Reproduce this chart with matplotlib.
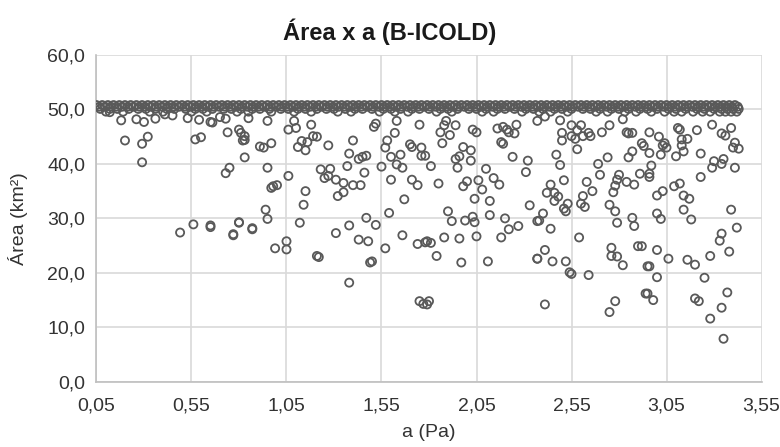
import matplotlib
matplotlib.use("Agg")
import matplotlib.pyplot as plt
from matplotlib.ticker import FuncFormatter

plt.rcParams["font.family"] = ["Liberation Sans", "DejaVu Sans"]

# Saturated band: simulations that reach the maximum flooded area
BAND_TOP = 50.8
BAND_UPPER = 50.5
BAND_MID = 50.1
BAND_LOW = 49.6
band_top_a = [
    0.05, 0.08, 0.11, 0.14, 0.17, 0.20, 0.23, 0.26, 0.29, 0.32, 0.35, 0.38,
    0.41, 0.44, 0.47, 0.50, 0.53, 0.56, 0.59, 0.62, 0.65, 0.68, 0.71, 0.74,
    0.77, 0.80, 0.83, 0.86, 0.89, 0.92, 0.95, 0.98, 1.01, 1.04, 1.07, 1.10,
    1.13, 1.16, 1.19, 1.22, 1.25, 1.28, 1.31, 1.34, 1.37, 1.40, 1.43, 1.46,
    1.49, 1.52, 1.55, 1.58, 1.61, 1.64, 1.67, 1.70, 1.73, 1.76, 1.79, 1.82,
    1.85, 1.88, 1.91, 1.94, 1.97, 2.00, 2.03, 2.06, 2.09, 2.12, 2.15, 2.18,
    2.21, 2.24, 2.27, 2.30, 2.33, 2.36, 2.39, 2.42, 2.45, 2.48, 2.51, 2.54,
    2.57, 2.60, 2.63, 2.66, 2.69, 2.72, 2.75, 2.78, 2.81, 2.84, 2.87, 2.90,
    2.93, 2.96, 2.99, 3.02, 3.05, 3.08, 3.11, 3.14, 3.17, 3.20, 3.23, 3.26,
    3.29, 3.32, 3.35, 3.38, 3.41,
]
band_upper_a = [
    0.065, 0.095, 0.125, 0.155, 0.185, 0.215, 0.245, 0.275, 0.305, 0.335,
    0.365, 0.395, 0.425, 0.455, 0.485, 0.515, 0.545, 0.575, 0.605, 0.635,
    0.665, 0.695, 0.725, 0.755, 0.785, 0.815, 0.845, 0.875, 0.905, 0.935,
    0.965, 0.995, 1.025, 1.055, 1.085, 1.115, 1.145, 1.175, 1.205, 1.235,
    1.265, 1.295, 1.325, 1.355, 1.385, 1.415, 1.445, 1.475, 1.505, 1.535,
    1.565, 1.595, 1.625, 1.655, 1.685, 1.715, 1.745, 1.775, 1.805, 1.835,
    1.865, 1.895, 1.925, 1.955, 1.985, 2.015, 2.045, 2.075, 2.105, 2.135,
    2.165, 2.195, 2.225, 2.255, 2.285, 2.315, 2.345, 2.375, 2.405, 2.435,
    2.465, 2.495, 2.525, 2.555, 2.585, 2.615, 2.645, 2.675, 2.705, 2.735,
    2.765, 2.795, 2.825, 2.855, 2.885, 2.915, 2.945, 2.975, 3.005, 3.035,
    3.065, 3.095, 3.125, 3.155, 3.185, 3.215, 3.245, 3.275, 3.305, 3.335,
    3.365, 3.395, 3.425,
]
band_mid_a = [
    0.07, 0.12, 0.16, 0.22, 0.27, 0.31, 0.36, 0.42, 0.46, 0.52, 0.57, 0.61,
    0.66, 0.72, 0.76, 0.81, 0.87, 0.91, 0.96, 1.02, 1.06, 1.11, 1.15, 1.21,
    1.26, 1.30, 1.36, 1.41, 1.45, 1.50, 1.56, 1.60, 1.65, 1.71, 1.75, 1.80,
    1.86, 1.90, 1.95, 2.01, 2.05, 2.10, 2.16, 2.20, 2.25, 2.31, 2.35, 2.40,
    2.46, 2.50, 2.55, 2.61, 2.65, 2.70, 2.76, 2.80, 2.85, 2.91, 2.95, 3.00,
    3.06, 3.10, 3.15, 3.21, 3.25, 3.30, 3.34, 3.37, 3.40, 3.43,
]
band_low_a = [
    0.10, 0.19, 0.33, 0.40, 0.55, 0.63, 0.79, 0.85, 0.97, 1.09, 1.18, 1.32,
    1.39, 1.54, 1.62, 1.69, 1.84, 1.92, 2.08, 2.14, 2.29, 2.38, 2.44, 2.53,
    2.68, 2.74, 2.83, 2.89, 2.97, 3.04, 3.09, 3.13, 3.19, 3.24, 3.28, 3.33,
    3.36, 3.39, 3.42,
]

# Simulations below the saturated band
a_pa = [
    0.12, 0.18, 0.26, 0.30, 0.36, 0.41, 0.45, 0.53, 0.59, 0.65, 0.70, 0.85,
    0.95, 0.20, 0.29, 0.32, 0.29, 0.57, 0.60, 0.49, 0.56, 0.65, 0.80, 0.77,
    0.87, 0.66, 0.73, 0.74, 0.80, 0.81, 0.83, 0.82, 0.83, 0.93, 0.97, 0.75,
    0.73, 0.95, 0.97, 0.98, 1.00, 1.06, 1.15, 1.14, 0.94, 0.95, 0.65, 0.80,
    0.77, 0.87, 0.99, 1.05, 1.05, 1.12, 1.21, 0.91, 0.83, 1.06, 1.10, 1.09,
    1.11, 1.13, 1.15, 1.16, 1.19, 1.18,
    1.21, 1.27, 1.40, 1.38, 1.43, 1.45, 1.47, 1.23, 1.28, 1.25, 1.27, 1.37,
    1.46, 1.31, 1.35, 1.40, 1.44, 1.35, 1.32, 1.51, 1.52, 1.58, 1.57, 1.62,
    1.63, 1.60, 1.65, 1.63, 1.66, 1.55, 1.60, 1.70, 1.71, 1.76, 1.76, 1.75,
    1.71, 1.74, 1.67, 1.59, 1.47, 1.38, 1.52, 1.31, 1.43, 1.48, 1.57, 1.66,
    1.74, 1.78, 1.22, 1.49, 1.50, 1.38, 1.75, 1.77,
    1.79, 1.80, 1.89, 1.88, 1.86, 1.91, 1.94, 1.87, 2.03, 2.05, 1.98, 1.96,
    1.94, 2.02, 2.02, 1.95, 1.81, 1.78, 2.16, 2.19, 2.21, 2.22, 2.25, 2.26,
    2.18, 2.19, 2.24, 2.32, 2.31, 2.10, 2.14, 2.17, 2.06, 2.08, 2.00, 1.98,
    1.85, 2.04, 2.12, 2.33, 1.90, 1.92, 1.99, 2.03, 2.04, 2.12, 2.20, 2.22,
    2.27, 2.37, 1.79, 1.81, 1.88, 1.96, 2.05, 2.18, 1.84, 1.97, 2.11, 2.37,
    2.37, 2.41, 2.49, 2.50, 2.50, 2.55, 2.57, 2.55, 2.58, 2.60, 2.61, 2.64,
    2.65, 2.58, 2.71, 2.75, 2.82, 2.85, 2.87, 2.84, 2.87, 2.92, 2.93, 2.85,
    2.74, 2.47, 2.49, 2.69, 2.70, 2.80, 2.79, 2.78, 2.77, 2.84, 2.88, 2.91,
    2.63, 2.66, 2.51, 2.44, 2.42, 2.46, 2.48, 2.46, 2.53, 2.51, 2.52, 2.61,
    2.60, 2.62, 2.75, 2.78, 2.79, 2.87, 2.88, 2.40, 2.38, 2.44, 2.59, 2.41,
    2.37, 2.45, 2.52, 2.54, 2.55, 2.64, 2.76, 2.76, 2.79, 2.82, 2.90, 2.92,
    2.95, 2.41, 2.78, 2.75, 2.94,
    2.96, 3.01, 3.03, 3.04, 3.05, 3.02, 2.96, 2.97, 2.96, 2.96, 3.11, 3.12,
    3.13, 3.16, 3.13, 3.14, 3.10, 3.21, 3.23, 3.23, 3.29, 3.34, 3.36, 3.41,
    3.40, 3.43, 3.39, 3.30, 3.29, 3.34, 3.35, 3.41, 3.00, 3.03, 3.09, 3.12,
    3.14, 3.17, 3.00, 3.02, 3.14, 3.18, 3.39, 3.42, 3.34, 3.33, 3.38, 3.28,
    3.00, 2.96, 3.06, 3.16, 3.20, 3.00, 3.25, 2.95, 2.98, 3.20, 3.22, 3.37,
    3.34, 3.28, 3.35,
]
area_km2 = [
    49.5, 48.0, 48.2, 47.7, 48.3, 49.1, 48.9, 48.4, 48.1, 47.7, 48.6, 48.4,
    47.9, 44.3, 43.7, 45.0, 40.3, 44.5, 44.9, 27.4, 28.9, 28.7, 29.3, 27.1,
    28.2, 47.6, 48.3, 45.8, 46.3, 45.7, 45.1, 44.3, 44.4, 43.0, 43.8, 39.3,
    38.3, 39.3, 35.6, 35.9, 36.1, 37.8, 35.0, 32.5, 31.6, 29.9, 28.4, 29.2,
    26.9, 28.0, 24.5, 25.8, 24.3, 29.2, 23.1, 43.2, 41.2, 46.3, 46.6, 47.9,
    43.1, 44.2, 42.5, 44.0, 45.1, 47.2,
    45.0, 43.4, 44.3, 41.9, 40.9, 41.3, 41.5, 39.0, 39.1, 37.4, 37.8, 39.6,
    38.4, 37.1, 36.5, 36.1, 36.1, 34.8, 34.1, 46.8, 47.4, 44.3, 43.0, 45.7,
    47.9, 41.3, 41.7, 39.9, 39.3, 39.5, 37.1, 43.6, 43.1, 43.0, 41.5, 47.2,
    37.1, 36.1, 33.5, 31.0, 30.1, 28.7, 28.8, 27.3, 26.1, 25.8, 24.5, 26.9,
    25.3, 25.6, 22.9, 21.9, 22.1, 18.2, 14.8, 14.3,
    14.2, 14.8, 47.9, 47.1, 45.8, 45.3, 47.1, 43.8, 46.3, 45.8, 43.1, 41.4,
    40.9, 42.5, 40.6, 39.3, 39.6, 41.5, 46.5, 46.8, 46.3, 45.8, 45.6, 47.2,
    44.0, 43.7, 41.3, 40.6, 38.5, 39.1, 37.4, 36.2, 37.0, 35.3, 36.8, 35.9,
    36.4, 33.6, 33.2, 32.4, 31.3, 29.5, 29.6, 30.3, 29.3, 30.6, 30.0, 28.0,
    28.6, 29.5, 25.8, 25.5, 26.5, 26.3, 26.7, 26.5, 23.1, 21.9, 22.1, 22.6,
    47.9, 48.7, 48.0, 45.7, 44.3, 45.1, 44.6, 47.1, 46.2, 47.1, 45.1, 45.7,
    45.1, 42.7, 45.8, 47.1, 48.2, 45.6, 45.7, 45.8, 42.3, 43.8, 43.3, 41.2,
    41.2, 41.7, 39.8, 40.0, 38.0, 38.0, 37.1, 36.0, 34.8, 36.7, 36.2, 38.2,
    36.7, 35.0, 37.0, 36.2, 34.7, 34.7, 34.0, 33.2, 32.7, 31.8, 31.3, 34.1,
    32.7, 32.1, 32.5, 31.3, 29.2, 30.1, 28.6, 30.9, 29.6, 28.1, 26.5, 24.2,
    22.6, 22.1, 22.1, 20.1, 19.8, 19.6, 24.6, 23.1, 23.0, 21.4, 24.9, 24.9,
    21.2, 14.2, 14.8, 12.8, 16.2,
    45.8, 45.0, 43.4, 43.8, 43.0, 41.7, 42.0, 39.7, 38.2, 37.6, 46.6, 46.3,
    44.5, 44.6, 43.4, 42.3, 41.4, 46.2, 41.9, 37.6, 47.2, 45.6, 45.2, 43.9,
    43.0, 42.8, 46.6, 40.5, 39.3, 40.0, 40.9, 39.3, 34.2, 35.0, 35.9, 36.4,
    34.2, 33.6, 30.9, 29.9, 31.6, 29.8, 31.6, 28.3, 27.2, 25.9, 23.9, 23.1,
    24.2, 21.2, 22.6, 22.4, 21.5, 19.2, 19.1, 16.2, 15.0, 15.3, 14.8, 16.4,
    13.6, 11.6, 7.9,
]

x_ticks = [0.05, 0.55, 1.05, 1.55, 2.05, 2.55, 3.05, 3.55]
y_ticks = [0, 10, 20, 30, 40, 50, 60]

MARK = "#595959"
GRID = "#d9d9d9"
TEXT = "#333333"

fig = plt.figure(figsize=(7.8, 4.47), dpi=100)
ax = fig.add_axes([0.1237, 0.1459, 0.8526, 0.7311])

style = dict(s=34, facecolors="none", edgecolors=MARK, linewidths=1.3, zorder=3)
ax.scatter(band_low_a, [BAND_LOW] * len(band_low_a), **style)
ax.scatter(band_mid_a, [BAND_MID] * len(band_mid_a), **style)
ax.scatter(band_upper_a, [BAND_UPPER] * len(band_upper_a), **style)
ax.scatter(band_top_a, [BAND_TOP] * len(band_top_a), **style)
ax.scatter(a_pa, area_km2, **style)

ax.set_xlim(x_ticks[0], x_ticks[-1])
ax.set_ylim(y_ticks[0], y_ticks[-1])
ax.set_xticks(x_ticks)
ax.set_yticks(y_ticks)
ax.xaxis.set_major_formatter(FuncFormatter(lambda v, _: f"{v:.2f}".replace(".", ",")))
ax.yaxis.set_major_formatter(FuncFormatter(lambda v, _: f"{v:.1f}".replace(".", ",")))
ax.tick_params(axis="y", length=0, labelsize=14, labelcolor=TEXT, pad=8)
ax.tick_params(axis="x", length=0, labelsize=14, labelcolor=TEXT, pad=11)

ax.grid(True, color=GRID, linewidth=1.2, zorder=0)
ax.set_axisbelow(True)
for side in ("top", "right"):
    ax.spines[side].set_visible(False)
for side in ("left", "bottom"):
    ax.spines[side].set_color("#bfbfbf")
    ax.spines[side].set_linewidth(1.2)

ax.set_xlabel("a (Pa)", fontsize=14, color=TEXT, labelpad=7)
ax.set_ylabel("Área (km²)", fontsize=14, color=TEXT, labelpad=14)
fig.text(0.5, 0.928, "Área x a (B-ICOLD)", ha="center", va="center",
         fontsize=17, fontweight="bold", color="#1a1a1a")

fig.savefig("out.png", dpi=100, facecolor="white")
